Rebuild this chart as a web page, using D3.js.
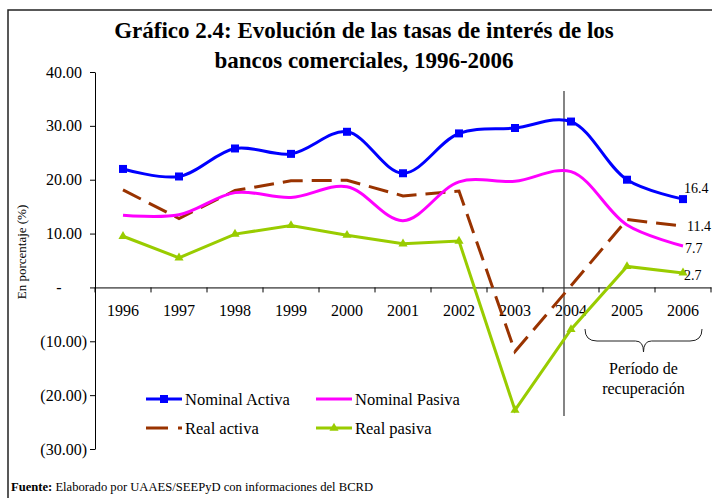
<!DOCTYPE html>
<html>
<head>
<meta charset="utf-8">
<script src="https://cdn.jsdelivr.net/npm/d3@7/dist/d3.min.js"></script>
<style>
    body { margin: 0; background: #fff; }
    svg { display: block; font-family: "Liberation Serif", "Times New Roman", serif; }
</style>
</head>
<body>
<div id="chart"></div>
<script>
const years = ['1996', '1997', '1998', '1999', '2000', '2001', '2002', '2003', '2004', '2005', '2006'];
const nominalActiva = [22.0, 20.6, 25.8, 24.8, 28.9, 21.2, 28.6, 29.6, 30.8, 20.0, 16.4];
const nominalPasiva = [13.4, 13.5, 17.6, 16.7, 18.7, 12.4, 19.6, 19.7, 21.5, 11.6, 7.7];
const realActiva = [18.1, 12.8, 18.0, 19.8, 19.9, 17.0, 17.9, -11.9, 0.3, 12.6, 11.4];
const realPasiva = [9.5, 5.5, 9.9, 11.5, 9.7, 8.1, 8.6, -22.8, -7.8, 3.9, 2.7];
const yTicks = [-30, -20, -10, 0, 10, 20, 30, 40];
const seriesNames = ['Nominal Activa', 'Nominal Pasiva', 'Real activa', 'Real pasiva'];

const width = 712;
const height = 498;
const color = {
    nomActiva: '#0000ff',
    nomPasiva: '#ff00ff',
    realActiva: '#993300',
    realPasiva: '#99cc00'
};

const svg = d3.select('#chart').append('svg')
    .attr('width', width)
    .attr('height', height);

// frame (only top + left visible in the original crop)
svg.append('path')
    .attr('d', 'M8,' + height + ' L8,10 L' + width + ',10')
    .attr('fill', 'none')
    .attr('stroke', '#222')
    .attr('stroke-width', 1.5);

// title
const title = svg.append('text')
    .attr('text-anchor', 'middle')
    .style('font-weight', 'bold')
    .style('font-size', '23px');
title.append('tspan').attr('x', 364).attr('y', 38).text('Gráfico 2.4: Evolución de las tasas de interés de los');
title.append('tspan').attr('x', 364).attr('y', 68).text('bancos comerciales, 1996-2006');

const x = d3.scaleBand().domain(years).range([95, 711]);
const y = d3.scaleLinear().domain([-30, 40]).range([449, 72]);
const cx = d => x(d) + x.bandwidth() / 2;

// y axis
const yAxis = svg.append('g')
    .attr('transform', 'translate(95,0)')
    .call(d3.axisLeft(y).tickValues(yTicks).tickSize(5).tickSizeOuter(0)
        .tickFormat(v => v === 0 ? '-' : v < 0 ? '(' + d3.format('.2f')(-v) + ')' : d3.format('.2f')(v)));
yAxis.attr('font-family', null);
yAxis.select('.domain').attr('stroke', '#000');
yAxis.selectAll('.tick text')
    .style('font-size', '16px')
    .attr('fill', '#000')
    .attr('x', v => v === 0 ? -36 : v < 0 ? -8 : -13)
    .attr('text-anchor', v => v === 0 ? 'middle' : 'end');

svg.append('text')
    .attr('transform', 'translate(26,252) rotate(-90)')
    .attr('text-anchor', 'middle')
    .style('font-size', '13px')
    .text('En porcentaje (%)');

// x axis at zero
const xAxis = svg.append('g')
    .attr('transform', 'translate(0,' + y(0) + ')')
    .call(d3.axisBottom(x).tickSize(0).tickSizeOuter(0).tickPadding(17));
xAxis.attr('font-family', null);
xAxis.select('.domain').attr('stroke', '#000');
xAxis.selectAll('.tick text')
    .style('font-size', '16px')
    .attr('fill', '#000');
xAxis.selectAll('.boundary')
    .data(years.map(d => x(d)).concat([x.range()[1]]))
    .enter().append('line')
    .attr('x1', d => d).attr('x2', d => d)
    .attr('y1', 0).attr('y2', 5)
    .attr('stroke', '#000');

// divider line at 2004
svg.append('line')
    .attr('x1', cx('2004') - 7).attr('x2', cx('2004') - 7)
    .attr('y1', 91).attr('y2', 416)
    .attr('stroke', '#333')
    .attr('stroke-width', 1.2);

// series
const smooth = d3.line().x((d, i) => cx(years[i])).y(d => y(d)).curve(d3.curveCatmullRom.alpha(0.5));
const straight = d3.line().x((d, i) => cx(years[i])).y(d => y(d));

svg.append('path').datum(realActiva)
    .attr('d', straight)
    .attr('fill', 'none')
    .attr('stroke', color.realActiva)
    .attr('stroke-width', 3)
    .attr('stroke-dasharray', '20,9');

svg.append('path').datum(nominalPasiva)
    .attr('d', smooth)
    .attr('fill', 'none')
    .attr('stroke', color.nomPasiva)
    .attr('stroke-width', 3);

svg.append('path').datum(realPasiva)
    .attr('d', straight)
    .attr('fill', 'none')
    .attr('stroke', color.realPasiva)
    .attr('stroke-width', 3);

svg.append('path').datum(nominalActiva)
    .attr('d', smooth)
    .attr('fill', 'none')
    .attr('stroke', color.nomActiva)
    .attr('stroke-width', 3);

const square = d3.symbol().type(d3.symbolSquare).size(64);
const triangle = d3.symbol().type(d3.symbolTriangle).size(36);

svg.selectAll('.sq')
    .data(nominalActiva)
    .enter().append('path')
    .attr('d', square)
    .attr('transform', (d, i) => 'translate(' + cx(years[i]) + ',' + y(d) + ')')
    .attr('fill', color.nomActiva);

svg.selectAll('.tri')
    .data(realPasiva)
    .enter().append('path')
    .attr('d', triangle)
    .attr('transform', (d, i) => 'translate(' + cx(years[i]) + ',' + y(d) + ')')
    .attr('fill', color.realPasiva);

// end labels for 2006
const last = years.length - 1;
const endLabels = [
    { v: nominalActiva[last], dx: 1, dy: -6 },
    { v: realActiva[last], dx: 4, dy: 5 },
    { v: nominalPasiva[last], dx: 2, dy: 7 },
    { v: realPasiva[last], dx: 1, dy: 7 }
];
svg.selectAll('.endlab')
    .data(endLabels)
    .enter().append('text')
    .attr('x', d => cx(years[last]) + d.dx)
    .attr('y', d => y(d.v) + d.dy)
    .style('font-size', '14px')
    .text(d => d.v.toFixed(1));

// recovery period brace
const bL = x('2005') - 14;
const bR = x.range()[1] - 9;
const bM = (bL + bR) / 2;
svg.append('path')
    .attr('d', 'M' + bL + ',329 Q' + bL + ',341 ' + (bL + 12) + ',341 L' + (bM - 8) + ',341 Q' + bM + ',341 ' + bM + ',352'
        + ' Q' + bM + ',341 ' + (bM + 8) + ',341 L' + (bR - 12) + ',341 Q' + bR + ',341 ' + bR + ',329')
    .attr('fill', 'none')
    .attr('stroke', '#222')
    .attr('stroke-width', 1);

const note = svg.append('text')
    .attr('text-anchor', 'middle')
    .style('font-size', '16px');
note.append('tspan').attr('x', bM).attr('y', 374).text('Período de');
note.append('tspan').attr('x', bM).attr('y', 394).text('recuperación');

// legend
const legend = [
    { name: seriesNames[0], c: color.nomActiva, dash: null, mark: square, lx: 146, ly: 399 },
    { name: seriesNames[1], c: color.nomPasiva, dash: null, mark: null, lx: 316, ly: 399 },
    { name: seriesNames[2], c: color.realActiva, dash: '22,10', mark: null, lx: 146, ly: 428 },
    { name: seriesNames[3], c: color.realPasiva, dash: null, mark: triangle, lx: 316, ly: 428 }
];
const lg = svg.selectAll('.lg').data(legend).enter().append('g');
lg.append('line')
    .attr('x1', d => d.lx).attr('x2', d => d.lx + 36)
    .attr('y1', d => d.ly).attr('y2', d => d.ly)
    .attr('stroke', d => d.c)
    .attr('stroke-width', 3)
    .attr('stroke-dasharray', d => d.dash);
lg.filter(d => d.mark).append('path')
    .attr('d', d => d.mark())
    .attr('transform', d => 'translate(' + (d.lx + 18) + ',' + d.ly + ')')
    .attr('fill', d => d.c);
lg.append('text')
    .attr('x', d => d.lx + 39)
    .attr('y', d => d.ly + 6)
    .style('font-size', '16.5px')
    .text(d => d.name);

// source
const src = svg.append('text')
    .attr('x', 11)
    .attr('y', 491)
    .style('font-size', '12.6px');
src.append('tspan').style('font-weight', 'bold').text('Fuente:');
src.append('tspan').text(' Elaborado por UAAES/SEEPyD con informaciones del BCRD');
</script>
</body>
</html>
